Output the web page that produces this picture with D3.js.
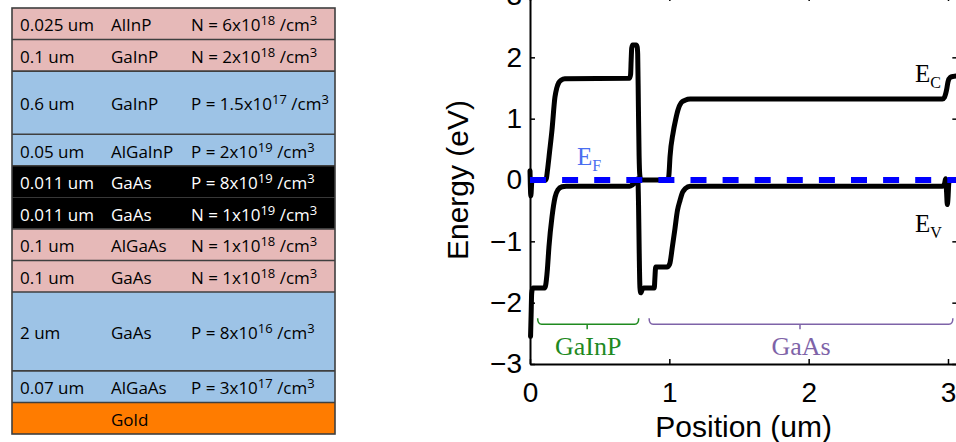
<!DOCTYPE html>
<html>
<head>
<meta charset="utf-8">
<script src="https://cdn.jsdelivr.net/npm/d3@7"></script>
<style>
  html, body { margin: 0; padding: 0; background: #fff; }
  svg { display: block; }
</style>
</head>
<body>
<svg id="chart" width="956" height="442"></svg>
<script>
// ---- Layer stack of the dual-junction cell (top to bottom) ----
const layerThickness = [0.025, 0.1, 0.6, 0.05, 0.011, 0.011, 0.1, 0.1, 2, 0.07, null];
const layerMaterial = ["AlInP", "GaInP", "GaInP", "AlGaInP", "GaAs", "GaAs", "AlGaAs", "GaAs", "GaAs", "AlGaAs", "Gold"];
const layerDopingType = ["N", "N", "P", "P", "P", "N", "N", "N", "P", "P", null];
const layerDopingMantissa = ["6", "2", "1.5", "2", "8", "1", "1", "1", "8", "3", null];
const layerDopingExponent = ["18", "18", "17", "19", "19", "19", "18", "18", "16", "17", null];
const layerRole = ["n", "n", "p", "p", "tunnel", "tunnel", "n", "n", "p", "p", "contact"];

// ---- Band diagram: conduction and valence band edges (um, eV) ----
const ecPosition = [0.000, 0.006, 0.014, 0.110, 0.118, 0.125, 0.140, 0.158, 0.179, 0.192, 0.207, 0.225, 0.250,
  0.715, 0.722, 0.726, 0.730, 0.737, 0.762, 0.769, 0.773, 0.778, 0.783, 0.788, 0.795,
  0.900, 0.990, 0.997, 1.005, 1.027, 1.045, 1.062, 1.085, 1.113, 1.150,
  2.960, 2.975, 2.990, 3.000, 3.015, 3.040, 3.067];
const ecEnergy = [0.15, -0.26, 0.00, 0.00, 0.03, 0.15, 0.45, 0.82, 1.35, 1.50, 1.59, 1.63, 1.65,
  1.66, 1.72, 1.95, 2.15, 2.20, 2.20, 2.17, 2.05, 1.20, 0.40, 0.08, 0.00,
  0.00, 0.00, 0.08, 0.38, 0.77, 0.98, 1.14, 1.26, 1.30, 1.32,
  1.32, 1.35, 1.47, 1.60, 1.67, 1.69, 1.70];
const evPosition = [0.004, 0.008, 0.012, 0.020, 0.105, 0.112, 0.125, 0.136, 0.158, 0.180, 0.200, 0.230, 0.260,
  0.715, 0.735, 0.755, 0.768, 0.774, 0.779, 0.784, 0.789, 0.795, 0.805, 0.815,
  0.892, 0.896, 0.902, 0.985, 0.995, 1.005, 1.020, 1.040, 1.058, 1.077, 1.095, 1.115, 1.150,
  2.960, 2.975, 2.983, 2.990, 2.995, 3.000, 3.006, 3.015, 3.067];
const evEnergy = [-2.55, -2.20, -1.85, -1.76, -1.76, -1.72, -1.45, -1.09, -0.60, -0.28, -0.16, -0.11, -0.10,
  -0.10, -0.08, -0.04, 0.00, 0.02, -0.40, -1.20, -1.75, -1.84, -1.79, -1.76,
  -1.76, -1.62, -1.42, -1.42, -1.40, -1.35, -1.12, -0.80, -0.50, -0.33, -0.20, -0.14, -0.10,
  -0.10, -0.06, 0.02, -0.20, -0.40, -0.30, -0.05, 0.00, 0.00];
const fermiEnergy = 0;

// Sub-cell brackets
const regionName = ["GaInP", "GaAs"];
const regionStart = [0.055, 0.855];
const regionEnd = [0.78, 3.035];

const xTickValues = [0, 1, 2, 3];
const yTickValues = [-3, -2, -1, 0, 1, 2, 3];

const svg = d3.select("#chart");

// ================= Layer table =================
const roleFill = { n: "#e6b9b8", p: "#9dc3e6", tunnel: "#000000", contact: "#ff7c00" };
const roleText = { n: "#000", p: "#000", tunnel: "#fff", contact: "#000" };
const rowSpan = t => (t === null ? 1 : t >= 1 ? 2.5 : t >= 0.5 ? 2 : 1);

const table = { x0: 12, x1: 335, y0: 8, y1: 434 };
const unitH = (table.y1 - table.y0) / d3.sum(layerThickness.map(rowSpan));
let acc = table.y0;
const rows = layerMaterial.map((m, i) => {
  const h = rowSpan(layerThickness[i]) * unitH;
  const r = { i, top: acc, h };
  acc += h;
  return r;
});

const tg = svg.append("g").attr("class", "layer-table");
tg.selectAll("rect.row").data(rows).join("rect")
  .attr("class", "row")
  .attr("x", table.x0).attr("y", d => d.top)
  .attr("width", table.x1 - table.x0).attr("height", d => d.h)
  .attr("fill", d => roleFill[layerRole[d.i]]);

// separators (none inside the tunnel junction)
tg.selectAll("line.sep").data(rows.slice(1).filter(d => !(layerRole[d.i] === "tunnel" && layerRole[d.i - 1] === "tunnel")))
  .join("line").attr("class", "sep")
  .attr("x1", table.x0).attr("x2", table.x1)
  .attr("y1", d => d.top).attr("y2", d => d.top)
  .attr("stroke", "#3f3f3f").attr("stroke-width", 1.6);
tg.append("rect")
  .attr("x", table.x0).attr("y", table.y0)
  .attr("width", table.x1 - table.x0).attr("height", table.y1 - table.y0)
  .attr("fill", "none").attr("stroke", "#3f3f3f").attr("stroke-width", 1.6);

const cellFont = "'Open Sans', 'Noto Sans', sans-serif";
const cells = tg.selectAll("g.cell").data(rows).join("g").attr("class", "cell")
  .attr("transform", d => `translate(0,${d.top + d.h / 2 + 7.5})`)
  .attr("font-family", cellFont).attr("font-size", 17)
  .attr("fill", d => roleText[layerRole[d.i]]);

cells.filter(d => layerThickness[d.i] !== null).append("text")
  .attr("x", 20).text(d => `${layerThickness[d.i]} um`);
cells.append("text").attr("x", 111).text(d => layerMaterial[d.i]);
const dop = cells.filter(d => layerDopingType[d.i] !== null).append("text").attr("x", 191);
dop.append("tspan").text(d => `${layerDopingType[d.i]} = ${layerDopingMantissa[d.i]}x10`);
dop.append("tspan").attr("font-size", 13).attr("dy", -6).text(d => layerDopingExponent[d.i]);
dop.append("tspan").attr("dy", 6).text(" /cm");
dop.append("tspan").attr("font-size", 13).attr("dy", -6).text("3");

// ================= Band diagram =================
const x = d3.scaleLinear().domain([0, 3.067]).range([530, 530 + 3.067 * 139.33]);
const y = d3.scaleLinear().domain([-3, 3]).range([364, -4]);

const axisFont = "'Liberation Sans', Arial, Helvetica, sans-serif";
const intFormat = d3.format("d");
const styleAxis = g => {
  g.select(".domain").attr("stroke", "#000").attr("stroke-width", 2);
  g.selectAll(".tick line").attr("stroke", "#000").attr("stroke-width", 1.5);
  g.selectAll(".tick text").attr("fill", "#000").attr("font-family", axisFont).attr("font-size", 28);
};

svg.append("g").attr("transform", `translate(0,${y(-3)})`)
  .call(d3.axisBottom(x).tickValues(xTickValues).tickFormat(intFormat)
    .tickSizeInner(-5).tickSizeOuter(0).tickPadding(18))
  .call(styleAxis);
svg.append("g").attr("transform", `translate(${x(0)},0)`)
  .call(d3.axisLeft(y).tickValues(yTickValues).tickFormat(intFormat)
    .tickSizeInner(-5).tickSizeOuter(0).tickPadding(8))
  .call(styleAxis);
svg.append("g").attr("transform", `translate(${x(3.067)},0)`)
  .call(d3.axisRight(y).tickValues(yTickValues).tickSizeInner(-5).tickSizeOuter(0).tickFormat(""))
  .call(styleAxis);
svg.append("g").attr("transform", `translate(0,${y(3)})`)
  .call(d3.axisTop(x).tickValues(xTickValues).tickSizeInner(-5).tickSizeOuter(0).tickFormat(""))
  .call(styleAxis);

// axis titles
svg.append("text")
  .attr("x", (x.range()[0] + x.range()[1]) / 2).attr("y", 437)
  .attr("text-anchor", "middle").attr("font-family", axisFont).attr("font-size", 30)
  .text("Position (um)");
svg.append("text")
  .attr("transform", `translate(468,${y(0)}) rotate(-90)`)
  .attr("text-anchor", "middle").attr("font-family", axisFont).attr("font-size", 30)
  .text("Energy (eV)");

// band edges
const line = d3.line().x(d => x(d[0])).y(d => y(d[1])).curve(d3.curveMonotoneX);
const ec = ecPosition.map((p, i) => [p, ecEnergy[i]]);
const ev = evPosition.map((p, i) => [p, evEnergy[i]]);
svg.append("g").selectAll("path.band").data([ec, ev]).join("path")
  .attr("class", "band")
  .attr("d", line)
  .attr("fill", "none").attr("stroke", "#000").attr("stroke-width", 5)
  .attr("stroke-linejoin", "round").attr("stroke-linecap", "round");

// Fermi level
svg.append("line")
  .attr("x1", x(0)).attr("x2", x(3.067))
  .attr("y1", y(fermiEnergy)).attr("y2", y(fermiEnergy))
  .attr("stroke", "#0000ff").attr("stroke-width", 6)
  .attr("stroke-dasharray", "16 16.1");

// band labels
const serif = "'Liberation Serif', 'Times New Roman', serif";
function bandLabel(px, py, main, sub, color) {
  const t = svg.append("text").attr("x", px).attr("y", py)
    .attr("font-family", serif).attr("font-size", 25).attr("fill", color);
  t.append("tspan").text(main);
  t.append("tspan").attr("font-size", 16).attr("dy", 6).text(sub);
}
bandLabel(915, 82, "E", "C", "#000");
bandLabel(915, 232, "E", "V", "#000");
bandLabel(577, 165, "E", "F", "#4a6ef0");

// sub-cell brackets
const regionColor = ["#1f8a1f", "#7e63a8"];
const bracketY = y(-2.35);
regionName.forEach((name, i) => {
  const a = x(regionStart[i]), b = x(regionEnd[i]), m = (a + b) / 2;
  svg.append("path")
    .attr("d", `M${a},${bracketY - 6}Q${a},${bracketY} ${a + 4},${bracketY}H${m - 1}V${bracketY + 5}M${m + 1},${bracketY}H${b - 4}Q${b},${bracketY} ${b},${bracketY - 6}M${m - 1},${bracketY}H${m + 1}`)
    .attr("fill", "none").attr("stroke", regionColor[i]).attr("stroke-width", 1.5);
  svg.append("text").attr("x", m).attr("y", 355)
    .attr("text-anchor", "middle").attr("font-family", serif).attr("font-size", 26)
    .attr("fill", regionColor[i]).text(name);
});
</script>
</body>
</html>
